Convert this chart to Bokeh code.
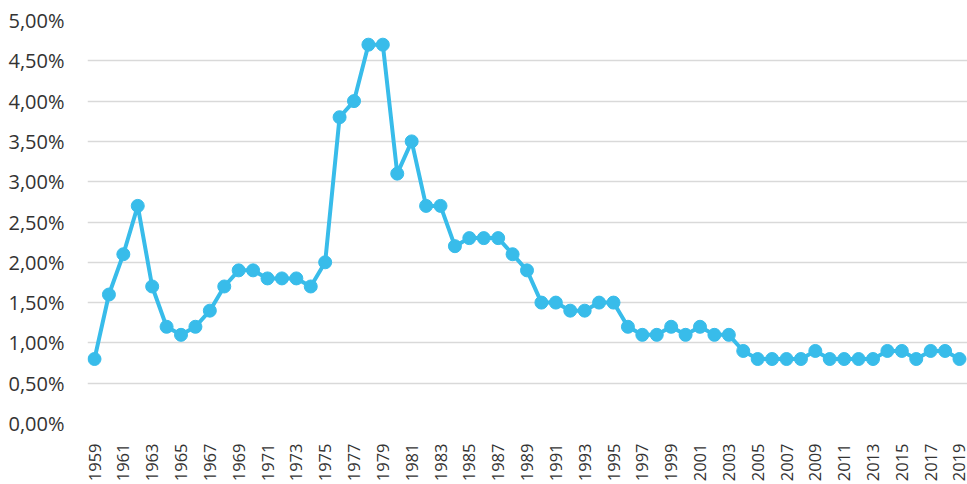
import math
from bokeh.plotting import figure
from bokeh.models import FixedTicker, Range1d, ColumnDataSource
from bokeh.embed import file_html
from bokeh.resources import INLINE

years = list(range(1959, 2020))
values = [0.8, 1.6, 2.1, 2.7, 1.7, 1.2, 1.1, 1.2, 1.4, 1.7,
          1.9, 1.9, 1.8, 1.8, 1.8, 1.7, 2.0, 3.8, 4.0, 4.7,
          4.7, 3.1, 3.5, 2.7, 2.7, 2.2, 2.3, 2.3, 2.3, 2.1,
          1.9, 1.5, 1.5, 1.4, 1.4, 1.5, 1.5, 1.2, 1.1, 1.1,
          1.2, 1.1, 1.2, 1.1, 1.1, 0.9, 0.8, 0.8, 0.8, 0.8,
          0.9, 0.8, 0.8, 0.8, 0.8, 0.9, 0.9, 0.8, 0.9, 0.9,
          0.8]
y_ticks = [0.0, 0.5, 1.0, 1.5, 2.0, 2.5, 3.0, 3.5, 4.0, 4.5, 5.0]
y_labels = ["0,00%", "0,50%", "1,00%", "1,50%", "2,00%", "2,50%",
            "3,00%", "3,50%", "4,00%", "4,50%", "5,00%"]
x_ticks = years[::2]
x_labels = [str(y) for y in x_ticks]

src = ColumnDataSource(dict(x=years, y=values))

p = figure(width=967, height=484, output_backend="svg", toolbar_location=None,
           x_range=Range1d(1958.514, 2019.555), y_range=Range1d(0, 5),
           min_border_top=20, min_border_left=87, min_border_right=0,
           min_border_bottom=60)
p.outline_line_color = None
p.background_fill_color = "white"
p.border_fill_color = "white"

blue = "#38BCEA"
p.line("x", "y", source=src, line_color=blue, line_width=4)
p.scatter("x", "y", source=src, size=13, fill_color=blue, line_color=blue)

p.xaxis.ticker = FixedTicker(ticks=x_ticks)
p.xaxis.major_label_overrides = {t: l for t, l in zip(x_ticks, x_labels)}
p.xaxis.major_label_orientation = math.pi / 2
p.yaxis.ticker = FixedTicker(ticks=y_ticks)
p.yaxis.major_label_overrides = {t: l for t, l in zip(y_ticks, y_labels)}

for ax in (p.xaxis[0], p.yaxis[0]):
    ax.axis_line_color = None
    ax.major_tick_line_color = None
    ax.minor_tick_line_color = None
    ax.major_label_text_font = "Open Sans"
    ax.major_label_text_color = "#333333"
p.yaxis.major_label_text_font_size = "20px"
p.xaxis.major_label_text_font_size = "16.5px"
p.yaxis.major_label_standoff = 17
p.xaxis.major_label_standoff = 14

p.xgrid.grid_line_color = None
p.ygrid.ticker = FixedTicker(ticks=y_ticks)
p.ygrid.grid_line_color = "#d9d9d9"
p.ygrid.grid_line_width = 1.5

open("out.html", "w").write(file_html(p, INLINE))
